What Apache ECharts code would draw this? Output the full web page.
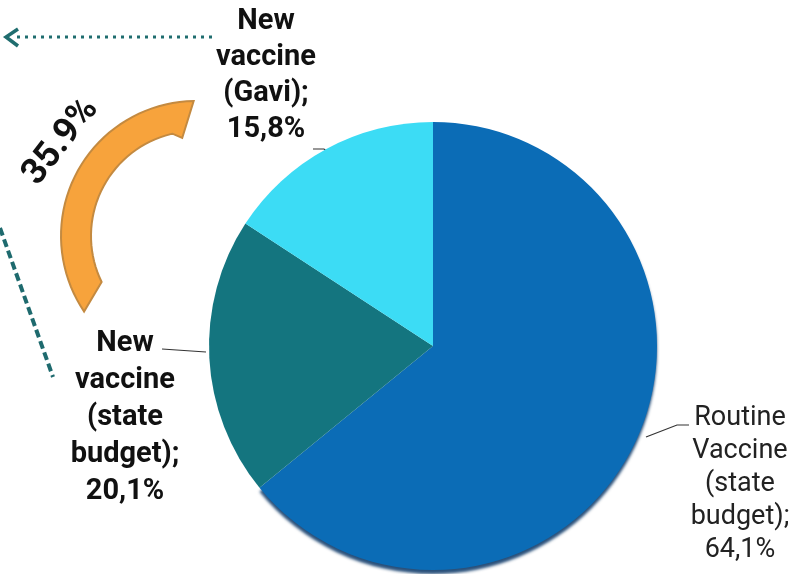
<!DOCTYPE html>
<html>
<head>
<meta charset="utf-8">
<script src="https://cdn.jsdelivr.net/npm/echarts@6/dist/echarts.min.js"></script>
<style>
html,body{margin:0;padding:0;background:#fff;}
#chart{width:812px;height:574px;}
</style>
</head>
<body>
<div id="chart"></div>
<script>
// ---- data ----
const categories = [
  'Routine\nVaccine\n(state\nbudget)',
  'New\nvaccine\n(state\nbudget)',
  'New\nvaccine\n(Gavi)'
];
const values = [64.1, 20.1, 15.8];
const sliceColors = ['#0b6cb6', '#14757f', '#3cdcf5'];
const labelBold = [false, true, true];
const newVaccineShare = (values[1] + values[2]).toFixed(1) + '%';

// ---- layout (positions only) ----
const labelPlacement = [
  { x: 740, y: 402, lh: 33, size: 27, pts: [[646, 437], [677, 425], [689, 425]] },
  { x: 125, y: 325, lh: 37, size: 29, pts: [[206, 352], [162, 349]] },
  { x: 266, y: 4,   lh: 36, size: 29, pts: [[329, 153], [324, 149], [313, 149]] }
];

const chart = echarts.init(document.getElementById('chart'), null, { renderer: 'canvas' });

const pieData = categories.map((c, i) => {
  const item = {
    name: c,
    value: values[i],
    itemStyle: { color: sliceColors[i] },
    label: {
      fontWeight: labelBold[i] ? 'bold' : 'normal',
      fontSize: labelPlacement[i].size,
      lineHeight: labelPlacement[i].lh,
      color: labelBold[i] ? '#111111' : '#222222'
    }
  };
  if (i === 0) {
    item.itemStyle.shadowColor = 'rgba(5,50,100,0.85)';
    item.itemStyle.shadowBlur = 3;
    item.itemStyle.shadowOffsetY = 4;
  }
  return item;
});

// orange arc polygon (decoration)
function arcPoly(cx, cy) {
  const pts = [];
  const R = 135, r = 105;
  const d = Math.PI / 180;
  for (let a = 269; a >= 146; a -= 3) pts.push([cx + R * Math.cos(a * d), cy + R * Math.sin(a * d)]);
  pts.push([cx + R * Math.cos(146 * d), cy + R * Math.sin(146 * d)]);
  for (let a = 154; a <= 257; a += 3) pts.push([cx + r * Math.cos(a * d), cy + r * Math.sin(a * d)]);
  pts.push([cx + r * Math.cos(257 * d), cy + r * Math.sin(257 * d)]);
  pts.push([cx + 99 * Math.cos(262 * d), cy + 99 * Math.sin(262 * d)]);
  return pts;
}

const option = {
  animation: false,
  backgroundColor: '#ffffff',
  textStyle: { fontFamily: 'Roboto, "Noto Sans", sans-serif' },
  series: [{
    type: 'pie',
    center: [433, 346],
    radius: 224,
    startAngle: 90,
    clockwise: true,
    silent: true,
    data: pieData,
    label: {
      show: true,
      position: 'outside',
      fontFamily: 'Roboto, sans-serif',
      align: 'center',
      formatter: p => p.name + ';\n' + p.value.toFixed(1).replace('.', ',') + '%'
    },
    labelLine: {
      show: true,
      length: 10,
      length2: 10,
      lineStyle: { color: '#333333', width: 1.2 }
    },
    labelLayout: function (params) {
      const lp = labelPlacement[params.dataIndex];
      return {
        x: lp.x,
        y: lp.y,
        align: 'center',
        verticalAlign: 'top',
        labelLinePoints: lp.pts
      };
    }
  }],
  graphic: [
    {
      type: 'polygon',
      shape: { points: arcPoly(196, 236) },
      style: { fill: '#f7a33c', stroke: '#c48a40', lineWidth: 2 },
      silent: true
    },
    {
      type: 'text',
      x: 61, y: 142,
      rotation: 52 * Math.PI / 180,
      style: {
        text: newVaccineShare,
        font: 'bold 36px Roboto, sans-serif',
        fill: '#111111',
        align: 'center',
        verticalAlign: 'middle'
      },
      silent: true
    },
    {
      type: 'line',
      shape: { x1: 212, y1: 37, x2: 14, y2: 37 },
      style: { stroke: '#1f6d6f', lineWidth: 3, lineDash: [3, 5] },
      silent: true
    },
    {
      type: 'polyline',
      shape: { points: [[18, 29], [6, 37], [18, 46]] },
      style: { stroke: '#1f6d6f', lineWidth: 3.5, fill: null, lineJoin: 'miter' },
      silent: true
    },
    {
      type: 'line',
      shape: { x1: 0, y1: 228, x2: 53, y2: 377 },
      style: { stroke: '#1e6a6e', lineWidth: 4, lineDash: [8, 4] },
      silent: true
    }
  ]
};

chart.setOption(option);
</script>
</body>
</html>
